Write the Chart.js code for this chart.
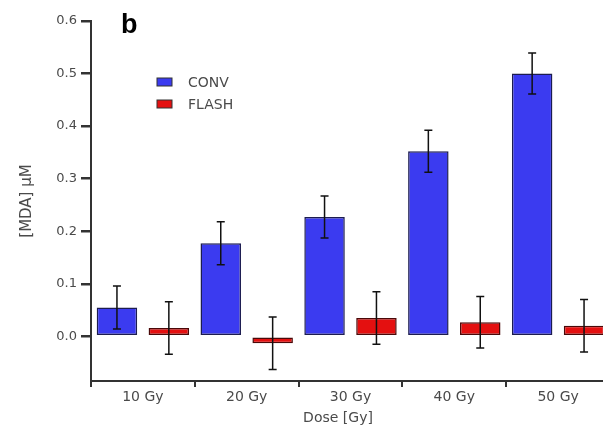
<!DOCTYPE html>
<html>
<head>
<meta charset="utf-8">
<script src="https://cdn.jsdelivr.net/npm/chart.js@4"></script>
<style>
html,body{margin:0;padding:0;background:#fff;overflow:hidden;}
#wrap{width:620px;height:429px;}
</style>
</head>
<body>
<div id="wrap"><canvas id="mdaChart" width="620" height="429"></canvas></div>
<script>
// values
var doses=["10 Gy","20 Gy","30 Gy","40 Gy","50 Gy"];
var conv=[0.055,0.177,0.227,0.352,0.500];
var convErr=[0.041,0.041,0.040,0.040,0.039];
var flash=[0.016,-0.013,0.035,0.027,0.020];
var flashErr=[0.050,0.050,0.050,0.049,0.050];
var yTicks=[0.0,0.1,0.2,0.3,0.4,0.5,0.6];

var greyText="#4a4a4a";
var axisCol="#333";

// error bars + legend + labels
var extras={
    id:"extras",
    afterDatasetsDraw:function(chart){
        var ctx=chart.ctx;
        var y=chart.scales.y;
        var errs=[convErr,flashErr];
        ctx.save();
        ctx.strokeStyle="#111";
        ctx.lineWidth=1.5;
        chart.data.datasets.forEach(function(ds,di){
            var meta=chart.getDatasetMeta(di);
            meta.data.forEach(function(bar,i){
                var v=ds.data[i],e=errs[di][i];
                var x=bar.x;
                var top=y.getPixelForValue(v+e);
                var bot=y.getPixelForValue(v-e);
                ctx.beginPath();
                ctx.moveTo(x,top);ctx.lineTo(x,bot);
                ctx.moveTo(x-4,top);ctx.lineTo(x+4,top);
                ctx.moveTo(x-4,bot);ctx.lineTo(x+4,bot);
                ctx.stroke();
            });
        });
        // legend
        ctx.font="14px 'DejaVu Sans'";
        ctx.textBaseline="middle";
        chart.data.datasets.forEach(function(ds,di){
            var ly=78+di*22;
            ctx.fillStyle=ds.backgroundColor;
            ctx.fillRect(157,ly,15,8);
            ctx.strokeStyle="#333";
            ctx.lineWidth=1;
            ctx.strokeRect(157,ly,15,8);
            ctx.fillStyle=greyText;
            ctx.textAlign="left";
            ctx.fillText(ds.label,188,ly+5);
        });
        // panel letter
        ctx.fillStyle="#000";
        ctx.font="bold 27px 'Liberation Sans'";
        ctx.textAlign="left";
        ctx.textBaseline="alphabetic";
        ctx.fillText("b",121,33);
        // axis titles
        ctx.fillStyle=greyText;
        ctx.font="14px 'DejaVu Sans'";
        ctx.textAlign="center";
        ctx.textBaseline="middle";
        ctx.fillText("Dose [Gy]",338,418);
        ctx.translate(27,201);
        ctx.rotate(-Math.PI/2);
        ctx.font="15px 'DejaVu Sans'";
        ctx.fillText("[MDA] \u03bcM",0,0);
        ctx.restore();
    }
};

var mdaCtx=document.getElementById("mdaChart").getContext("2d");
var mdaBar=new Chart(mdaCtx,{
    type:"bar",
    data:{
        labels:doses,
        datasets:[
            {
                label:"CONV",
                data:conv,
                backgroundColor:"#3b3bf0",
                borderColor:"#1c1c50",
                borderWidth:1.5,
                borderSkipped:false
            },
            {
                label:"FLASH",
                data:flash,
                backgroundColor:"#e41010",
                borderColor:"#4a0808",
                borderWidth:1.5,
                borderSkipped:false
            }
        ]
    },
    options:{
        responsive:false,
        animation:false,
        layout:{padding:{top:21,right:10,left:0,bottom:0}},
        datasets:{bar:{categoryPercentage:1.0,barPercentage:0.78}},
        plugins:{
            legend:{display:false},
            tooltip:{enabled:false}
        },
        scales:{
            x:{
                grid:{drawOnChartArea:false,offset:true,tickLength:6,color:axisCol,lineWidth:2},
                border:{color:axisCol,width:2},
                ticks:{color:greyText,font:{family:"DejaVu Sans",size:14},padding:2},
                afterFit:function(s){s.height=48;}
            },
            y:{
                min:-0.085,
                max:0.6,
                afterBuildTicks:function(s){s.ticks=yTicks.map(function(v){return {value:v};});},
                grid:{drawOnChartArea:false,tickLength:10,color:axisCol,lineWidth:2.5},
                border:{color:axisCol,width:2},
                ticks:{
                    color:greyText,
                    font:{family:"DejaVu Sans",size:13},
                    padding:4,
                    callback:function(v){return v.toFixed(1);}
                },
                afterFit:function(s){s.width=91;}
            }
        }
    },
    plugins:[extras]
});
</script>
</body>
</html>
